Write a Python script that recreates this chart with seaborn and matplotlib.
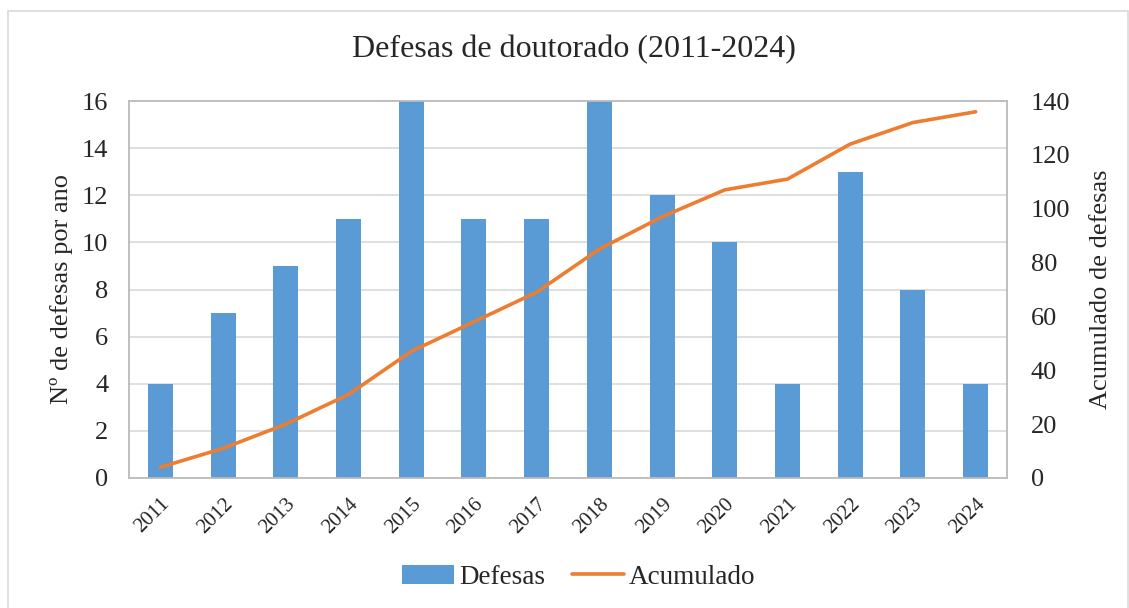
import numpy as np
import pandas as pd
import matplotlib
matplotlib.use('Agg')
import matplotlib.pyplot as plt
import seaborn as sns
from matplotlib.patches import Rectangle, Patch
from matplotlib.lines import Line2D

years = ['2011', '2012', '2013', '2014', '2015', '2016', '2017',
         '2018', '2019', '2020', '2021', '2022', '2023', '2024']
defesas = [4, 7, 9, 11, 16, 11, 11, 16, 12, 10, 4, 13, 8, 4]
acumulado = [4, 11, 20, 31, 47, 58, 69, 85, 97, 107, 111, 124, 132, 136]

df = pd.DataFrame({'Ano': years, 'Defesas': defesas, 'Acumulado': acumulado})

sns.set_style('white')
plt.rcParams['font.family'] = ['Liberation Serif', 'DejaVu Serif']

bar_color = '#5B9BD5'
line_color = '#ED7D31'
grid_color = '#D9D9D9'

fig = plt.figure(figsize=(11.29, 6.08), dpi=100)
ax = fig.add_axes([129 / 1129, 1 - 478 / 608, (1007 - 129) / 1129, (478 - 101) / 608])

# outer chart frame
fig.patches.append(Rectangle((8 / 1129, -0.01), (1128 - 8) / 1129, 1 - 11 / 608 + 0.01,
                             transform=fig.transFigure, fill=False,
                             edgecolor='#D9D9D9', linewidth=1.2))

sns.barplot(data=df, x='Ano', y='Defesas', ax=ax, color=bar_color,
            width=0.4, saturation=1, linewidth=0, zorder=3)
ax.set_ylim(0, 16)
ax.set_yticks(range(0, 17, 2))
ax.set_xlim(-0.5, len(years) - 0.5)
ax.yaxis.grid(True, color=grid_color, linewidth=1.2, zorder=0)
ax.set_axisbelow(True)
for s in ax.spines.values():
    s.set_color('#BFBFBF')
    s.set_linewidth(1.2)
ax.tick_params(axis='both', length=0)
ax.tick_params(axis='y', labelsize=19, pad=15)
ax.tick_params(axis='x', labelsize=15, pad=12)
plt.setp(ax.get_xticklabels(), rotation=45, ha='right', rotation_mode='anchor')
ax.set_xlabel('')
ax.set_ylabel('Nº de defesas por ano', fontsize=19, labelpad=6)

ax2 = ax.twinx()
sns.lineplot(data=df, x='Ano', y='Acumulado', ax=ax2, color=line_color,
             linewidth=2.6, solid_capstyle='round', zorder=4)
ax2.set_ylim(0, 140)
ax2.set_yticks(range(0, 141, 20))
ax2.set_xlim(-0.5, len(years) - 0.5)
for s in ax2.spines.values():
    s.set_color('#BFBFBF')
    s.set_linewidth(1.2)
ax2.tick_params(axis='y', length=0, labelsize=19, pad=17)
ax2.set_ylabel('Acumulado de defesas', fontsize=19, labelpad=14)
ax2.set_xlabel('')

fig.text(0.5 * (352 + 795) / 1129, 1 - 50 / 608, 'Defesas de doutorado (2011-2024)',
         ha='center', va='center', fontsize=23)

handles = [Patch(facecolor=bar_color, edgecolor='none'),
           Line2D([0], [0], color=line_color, linewidth=2.6, solid_capstyle='round')]
fig.legend(handles, ['Defesas', 'Acumulado'], loc='center',
           bbox_to_anchor=(0.5 * (403 + 755) / 1129, 1 - 577 / 608), ncol=2,
           frameon=False, fontsize=19.5, handlelength=1.9, handletextpad=0.2,
           columnspacing=1.0)

fig.savefig('out.png', dpi=100)
